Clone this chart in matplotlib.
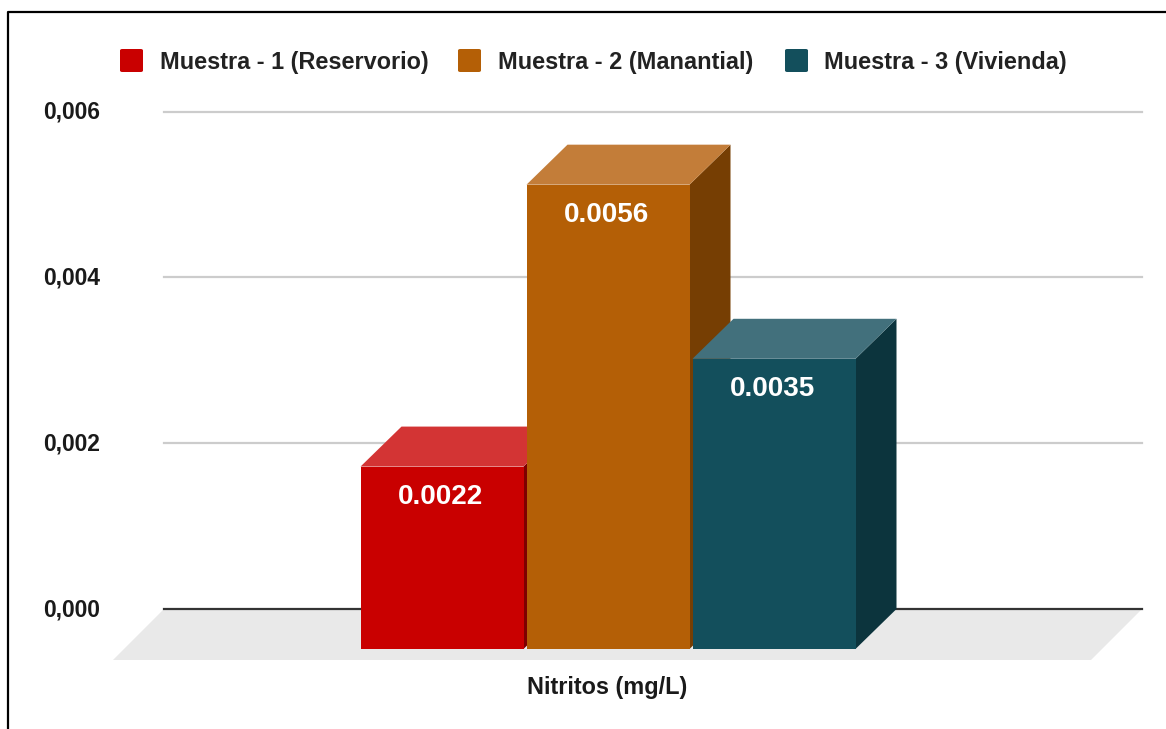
import matplotlib
matplotlib.use('Agg')
import matplotlib.pyplot as plt
from matplotlib.lines import Line2D
from matplotlib.patches import FancyBboxPatch, Polygon
from matplotlib.transforms import ScaledTranslation

plt.rcParams['font.family'] = ['Liberation Sans', 'DejaVu Sans']

# data
series = ['Muestra - 1 (Reservorio)', 'Muestra - 2 (Manantial)', 'Muestra - 3 (Vivienda)']
values = [0.0022, 0.0056, 0.0035]
value_labels = ['0.0022', '0.0056', '0.0035']
y_ticks = [0.000, 0.002, 0.004, 0.006]
y_tick_labels = ['0,000', '0,002', '0,004', '0,006']
x_label = 'Nitritos (mg/L)'

front_colors = ['#c90000', '#b45f06', '#134f5c']
top_colors = ['#d33434', '#c37d39', '#42707c']
side_colors = ['#7d0000', '#763e03', '#0c343d']

W, H = 1166, 729
fig = plt.figure(figsize=(W / 100, H / 100), dpi=100, facecolor='white')

# plot area, x axis runs in pixels so the 3d offsets stay simple
left, right, y0, y6 = 164, 1142, 609, 111.5
ax = fig.add_axes([left / W, 1 - y0 / H, (right - left) / W, (y0 - y6) / H])
ax.set_xlim(left, right)
ax.set_ylim(0, 0.006)
ax.patch.set_alpha(0)
for s in ax.spines.values():
    s.set_visible(False)
ax.set_xticks([])
ax.set_yticks(y_ticks)
ax.set_yticklabels(y_tick_labels, fontsize=16.4, fontweight='bold', color='#1a1a1a')
# pad is in points, labels start 121 px left of the plot area
ax.tick_params(axis='y', length=0, pad=87)
nudge = ScaledTranslation(0, -1 / 100, fig.dpi_scale_trans)
for lab in ax.get_yticklabels():
    lab.set_ha('left')
    lab.set_va('center')
    lab.set_transform(lab.get_transform() + nudge)

unit = 0.006 / (y0 - y6)  # value per pixel
depth_x = 41
depth_y = 40 * unit
floor_drop = 51 * unit

# grey floor under the bars
ax.add_patch(Polygon([(left, 0), (right, 0), (right - 51, -floor_drop), (113, -floor_drop)],
                     closed=True, fc='#e9e9e9', ec='none', clip_on=False, zorder=1))
for t in y_ticks[1:]:
    ax.axhline(t, color='#cccccc', lw=1.6, zorder=1.5, clip_on=False)
ax.axhline(0, color='#333333', lw=1.6, zorder=1.6, clip_on=False)

# 3d bars
bar_left = [360.5, 526.5, 692.5]
bar_width = 163
for i, v in enumerate(values):
    x0 = bar_left[i]
    x1 = x0 + bar_width
    base = -depth_y
    top = base + v
    z = 2 + i
    ax.add_patch(Polygon([(x1, base), (x1 + depth_x, 0), (x1 + depth_x, top + depth_y), (x1, top)],
                         closed=True, fc=side_colors[i], ec='none', lw=0, clip_on=False, zorder=z))
    ax.add_patch(Polygon([(x0, top), (x1, top), (x1 + depth_x, top + depth_y), (x0 + depth_x, top + depth_y)],
                         closed=True, fc=top_colors[i], ec='none', lw=0, clip_on=False, zorder=z))
    ax.bar(x0, v, width=bar_width, bottom=base, align='edge', color=front_colors[i], lw=0,
           clip_on=False, zorder=z + 0.1)
    ax.text(x0 + bar_width / 2 - 1.5, top - 30 * unit, value_labels[i], color='white', fontsize=20,
            fontweight='bold', ha='center', va='center', zorder=z + 0.2)

# legend drawn by hand to keep the spacing tight
swatch_x = [120, 458, 785]
text_x = [160, 498, 824.5]
for i, name in enumerate(series):
    fig.patches.append(FancyBboxPatch((swatch_x[i] / W, 1 - 72 / H), 23 / W, 23 / H,
                                      boxstyle='round,pad=0,rounding_size=0.002',
                                      fc=front_colors[i], ec='none',
                                      transform=fig.transFigure, figure=fig))
    fig.text(text_x[i] / W, 1 - 62.5 / H, name, fontsize=16.9, fontweight='bold', color='#222222',
             ha='left', va='center')

fig.text(607.5 / W, 1 - 687.5 / H, x_label, fontsize=16.9, fontweight='bold', color='#1a1a1a',
         ha='center', va='center')

# outer frame, only top and left edges are in view
fig.add_artist(Line2D([7.5 / W, 7.5 / W, 1], [0, 1 - 12 / H, 1 - 12 / H], color='black', lw=1.6,
                      transform=fig.transFigure))

fig.savefig('out.png', dpi=100)
